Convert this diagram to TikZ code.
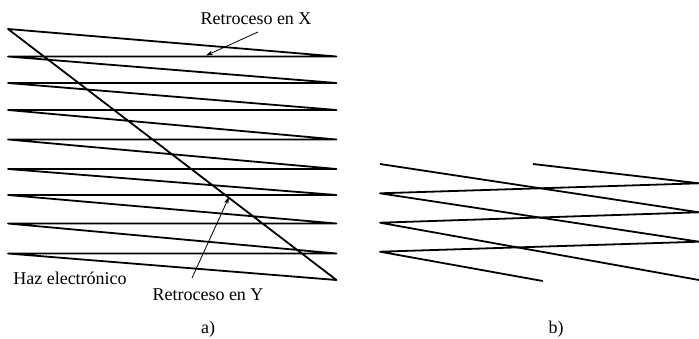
\documentclass[tikz,border=0pt]{standalone}
\usepackage{fontspec}
\setmainfont{Liberation Serif}
\usetikzlibrary{arrows.meta}
\begin{document}
\begin{tikzpicture}[x=1pt,y=-1pt,
  scan/.style={line width=1.8pt, line join=round, line cap=butt},
  lbl/.style={font=\fontsize{18}{21}\selectfont, inner sep=0pt, anchor=base},
  arr/.style={line width=0.8pt, -{Stealth[length=7pt,width=4.5pt]}}]
\useasboundingbox (0,0) rectangle (699,338);
% ---- a) raster ----
\coordinate (L0) at (8,29);
\coordinate (L1) at (8,56.5);   \coordinate (R1) at (336.5,56.5);
\coordinate (L2) at (8,83);     \coordinate (R2) at (336.5,83);
\coordinate (L3) at (8,110);    \coordinate (R3) at (336.5,110);
\coordinate (L4) at (8,139.5);  \coordinate (R4) at (336.5,139.5);
\coordinate (L5) at (8,169);    \coordinate (R5) at (336.5,169);
\coordinate (L6) at (8,195);    \coordinate (R6) at (336.5,195);
\coordinate (L7) at (8,223.5);  \coordinate (R7) at (336.5,223.5);
\coordinate (L8) at (8,253.5);  \coordinate (R8) at (336.5,253.5);
\coordinate (R9) at (336.5,280);
\draw[scan] (L0) -- (R1) -- (L1) -- (R2) -- (L2) -- (R3) -- (L3) -- (R4) -- (L4)
  -- (R5) -- (L5) -- (R6) -- (L6) -- (R7) -- (L7) -- (R8) -- (L8) -- (R9) -- cycle;
% labels a)
\node[lbl] (lx) at (256,24) {Retroceso en X};
\node[lbl] (lh) at (70,284) {Haz electrónico};
\node[lbl] (ly) at (208,300.5) {Retroceso en Y};
\node[lbl] (la) at (208,333) {a)};
\coordinate (ax0) at (258,32);  \coordinate (ax1) at (206,55.5);
\coordinate (ay0) at (192,278); \coordinate (ay1) at (229,197);
\draw[arr] (ax0) -- (ax1);
\draw[arr] (ay0) -- (ay1);
% ---- b) interlaced ----
\coordinate (b1) at (380,164);   \coordinate (b2) at (699,212.3);
\coordinate (b3) at (380,222.7); \coordinate (b4) at (699,280);
\coordinate (c1) at (533,164);   \coordinate (c2) at (699,183.3);
\coordinate (c3) at (380,193.3); \coordinate (c4) at (699,241.7);
\coordinate (c5) at (380,251.7); \coordinate (c6) at (542.7,281);
\draw[scan] (b1) -- (b2) -- (b3) -- (b4);
\draw[scan] (c1) -- (c2) -- (c3) -- (c4) -- (c5) -- (c6);
\node[lbl] (lb) at (556,333) {b)};
\end{tikzpicture}
\end{document}
